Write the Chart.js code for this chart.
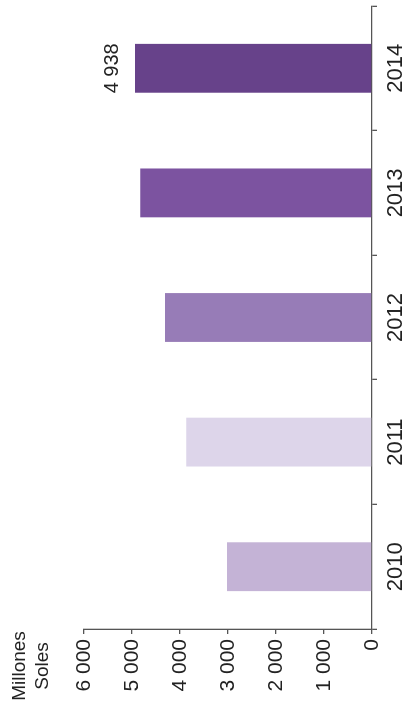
<!DOCTYPE html>
<html>
<head>
<meta charset="utf-8">
<script src="https://cdn.jsdelivr.net/npm/chart.js@4/dist/chart.umd.min.js"></script>
<style>
  html, body { margin: 0; padding: 0; background: #fff; overflow: hidden; }
  #wrap {
    position: absolute; left: 0; top: 0;
    width: 710px; height: 408px;
    transform-origin: 0 0;
    transform: translateY(710px) rotate(-90deg);
  }
</style>
</head>
<body>
<div id="wrap"><canvas id="chart" width="710" height="408"></canvas></div>
<script>
// data (chart is drawn as vertical bars, then the whole thing is turned -90deg)
var years = ['2010', '2011', '2012', '2013', '2014'];
var values = [3020, 3870, 4310, 4830, 4938];
var barColors = ['#c4b3d6', '#ddd5ea', '#977cb7', '#7c53a0', '#67428a'];
var shownLabels = ['', '', '', '', '4 938'];
var unitTitle = ['Millones', 'Soles'];

var axisColor = '#555';
var fontFam = "'Liberation Sans', Arial, sans-serif";

function fmt(v) {
  return String(v).replace(/\B(?=(\d{3})+(?!\d))/g, ' ');
}

var extras = {
  id: 'extras',
  afterDatasetsDraw: function(chart) {
    var ctx = chart.ctx;
    var meta = chart.getDatasetMeta(0);
    ctx.save();
    ctx.fillStyle = '#222';
    ctx.font = '20px ' + fontFam;
    ctx.textAlign = 'center';
    ctx.textBaseline = 'bottom';
    meta.data.forEach(function(bar, i) {
      if (shownLabels[i]) ctx.fillText(shownLabels[i], bar.x, bar.y - 12);
    });
    // unit title over the value axis
    ctx.font = '19px ' + fontFam;
    ctx.textBaseline = 'middle';
    ctx.fillText(unitTitle[0], 44, 20);
    ctx.fillText(unitTitle[1], 44, 43);
    ctx.restore();
  }
};

new Chart(document.getElementById('chart'), {
  type: 'bar',
  data: {
    labels: years,
    datasets: [{
      data: values,
      backgroundColor: barColors,
      borderWidth: 0,
      categoryPercentage: 0.8,
      barPercentage: 0.49
    }]
  },
  options: {
    responsive: false,
    animation: false,
    devicePixelRatio: 1,
    layout: { padding: { top: 84, right: 6, left: 0, bottom: 0 } },
    plugins: { legend: { display: false }, tooltip: { enabled: false } },
    scales: {
      x: {
        grid: { drawOnChartArea: false, offset: true, tickLength: 5, color: axisColor, lineWidth: 1.3 },
        border: { color: axisColor, width: 1.3 },
        ticks: { color: '#222', font: { family: fontFam, size: 22 }, padding: 6 },
        afterFit: function(s) { s.height = 36; }
      },
      y: {
        min: 0,
        max: 6000,
        grid: { drawOnChartArea: false, tickLength: 5, color: axisColor, lineWidth: 1.3 },
        border: { color: axisColor, width: 1.3 },
        ticks: {
          stepSize: 1000,
          color: '#222',
          font: { family: fontFam, size: 21 },
          padding: 5,
          callback: function(v) { return fmt(v); }
        },
        afterFit: function(s) { s.width = 81; }
      }
    }
  },
  plugins: [extras]
});
</script>
</body>
</html>
